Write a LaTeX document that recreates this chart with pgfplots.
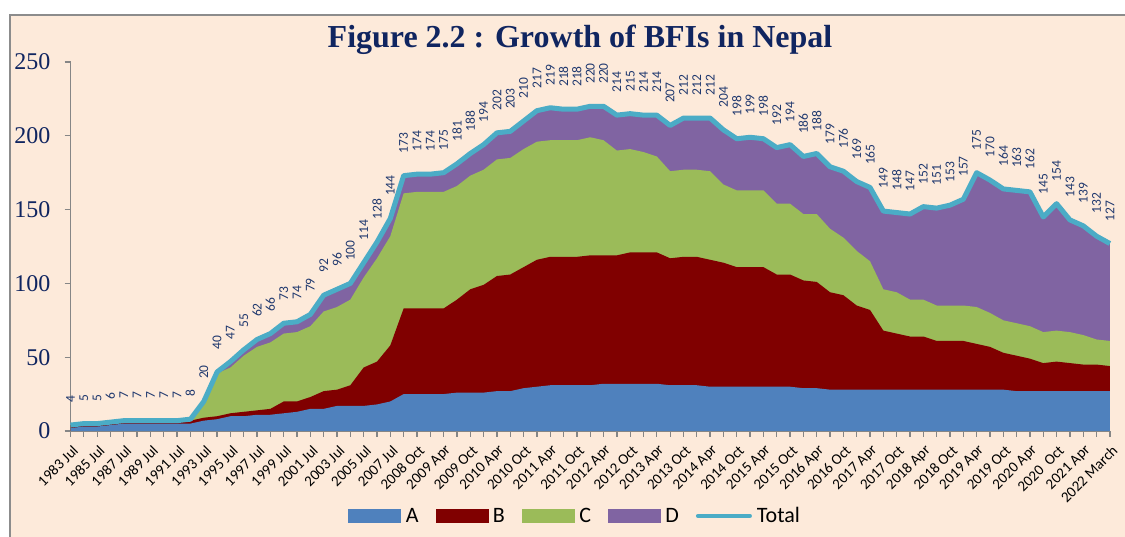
\documentclass[border=0pt]{standalone}
\usepackage{fontspec}
\setmainfont{Liberation Serif}
\newfontfamily\calibri{Carlito}
\usepackage{pgfplots}
\usepackage{pgfplotstable}
\pgfplotsset{compat=1.18}
\definecolor{bgpeach}{RGB}{253,234,218}
\definecolor{framegray}{RGB}{140,140,140}
\definecolor{axgray}{RGB}{134,134,134}
\definecolor{cA}{RGB}{79,129,189}
\definecolor{cB}{RGB}{128,0,0}
\definecolor{cC}{RGB}{155,187,89}
\definecolor{cD}{RGB}{128,100,162}
\definecolor{cT}{RGB}{75,172,198}
\definecolor{navy}{RGB}{16,37,96}
\definecolor{lblnavy}{RGB}{31,56,110}

\pgfplotstableread{
x A B C D T
0 2 2 0 0 4
1 3 2 0 0 5
2 3 2 0 0 5
3 4 2 0 0 6
4 5 2 0 0 7
5 5 2 0 0 7
6 5 2 0 0 7
7 5 2 0 0 7
8 5 2 0 0 7
9 5 2 1 0 8
10 7 2 10 1 20
11 8 2 29 1 40
12 10 2 31 4 47
13 10 3 38 4 55
14 11 3 43 5 62
15 11 4 45 6 66
16 12 8 46 7 73
17 13 7 47 7 74
18 15 8 48 8 79
19 15 12 54 11 92
20 17 11 56 12 96
21 17 14 58 11 100
22 17 26 61 10 114
23 18 29 70 11 128
24 20 38 74 12 144
25 25 58 78 12 173
26 25 58 79 12 174
27 25 58 79 12 174
28 25 58 79 13 175
29 26 63 77 15 181
30 26 70 77 15 188
31 26 73 78 17 194
32 27 78 79 18 202
33 27 79 79 18 203
34 29 82 80 19 210
35 30 86 80 21 217
36 31 87 79 22 219
37 31 87 79 21 218
38 31 87 79 21 218
39 31 88 80 21 220
40 32 87 78 23 220
41 32 87 71 24 214
42 32 89 70 24 215
43 32 89 68 25 214
44 32 89 65 28 214
45 31 86 59 31 207
46 31 87 59 35 212
47 31 87 59 35 212
48 30 86 60 36 212
49 30 84 53 37 204
50 30 81 52 35 198
51 30 81 52 36 199
52 30 81 52 35 198
53 30 76 48 38 192
54 30 76 48 40 194
55 29 73 45 39 186
56 29 72 46 41 188
57 28 66 43 42 179
58 28 64 39 45 176
59 28 57 37 47 169
60 28 54 33 50 165
61 28 40 28 53 149
62 28 38 28 54 148
63 28 36 25 58 147
64 28 36 25 63 152
65 28 33 24 66 151
66 28 33 24 68 153
67 28 33 24 72 157
68 28 31 25 91 175
69 28 29 23 90 170
70 28 25 22 89 164
71 27 24 22 90 163
72 27 22 22 91 162
73 27 19 21 78 145
74 27 20 21 86 154
75 27 19 21 76 143
76 27 18 20 74 139
77 27 18 17 70 132
78 27 17 17 66 127
}\bfi

\begin{document}
\begin{tikzpicture}[x=1pt,y=1pt]
\path[use as bounding box] (0,0) rectangle (1125,537);
\fill[white] (0,0) rectangle (1125,537);
\fill[bgpeach] (9.5,0) rectangle (1125,522);
\draw[framegray, line width=2pt] (9.5,0) -- (9.5,522) -- (1125,522);
\node[anchor=base, font=\bfseries\fontsize{32}{32}\selectfont, text=navy, inner sep=0pt] at (580,489) {Figure 2.2 : Growth of BFIs in Nepal};
\begin{axis}[
  at={(70.5pt,106pt)}, anchor=south west,
  scale only axis, width=1039.5pt, height=369pt,
  xmin=0, xmax=78, ymin=0, ymax=250,
  clip=false,
  axis x line*=bottom, axis y line*=left,
  axis line style={axgray, line width=1.5pt},
  tick align=outside,
  xtick={0,2,...,78}, minor xtick={1,3,...,77},
  ytick={0,50,...,250},
  major tick length=6pt, minor tick length=6pt,
  tick style={axgray, line width=1.3pt},
  xticklabels={1983 Jul,1985 Jul,1987 Jul,1989 Jul,1991 Jul,1993 Jul,1995 Jul,1997 Jul,1999 Jul,2001 Jul,2003 Jul,2005 Jul,2007 Jul,2008 Oct,2009 Apr,2009 Oct,2010 Apr,2010 Oct,2011 Apr,2011 Oct,2012 Apr,2012 Oct,2013 Apr,2013 Oct,2014 Apr,2014 Oct,2015 Apr,2015 Oct,2016 Apr,2016 Oct,2017 Apr,2017 Oct,2018 Apr,2018 Oct,2019 Apr,2019 Oct,2020 Apr,2020~~Oct,2021 Apr,2022 March},
  xticklabel style={font=\calibri\fontsize{15}{15}\selectfont, inner sep=0pt, xshift=5pt, yshift=-11pt, rotate=45, anchor=east},
  yticklabel style={font=\fontsize{24}{24}\selectfont, text=navy, inner sep=0pt, xshift=-14pt, anchor=east},
  /pgf/number format/assume math mode=true,
  legend columns=5,
  legend style={at={(0.487,-0.230)}, anchor=center, draw=none, fill=none,
    font=\calibri\fontsize{22}{22}\selectfont,
    nodes={inner xsep=5pt},
    /tikz/every even column/.append style={column sep=12pt}},
]
\addlegendimage{legend image code/.code={\fill[cA] (0pt,-6.5pt) rectangle (52pt,6.5pt);}}
\addlegendentry{A}
\addlegendimage{legend image code/.code={\fill[cB] (0pt,-6.5pt) rectangle (52pt,6.5pt);}}
\addlegendentry{B}
\addlegendimage{legend image code/.code={\fill[cC] (0pt,-6.5pt) rectangle (52pt,6.5pt);}}
\addlegendentry{C}
\addlegendimage{legend image code/.code={\fill[cD] (0pt,-6.5pt) rectangle (52pt,6.5pt);}}
\addlegendentry{D}
\addlegendimage{legend image code/.code={\draw[cT, line width=4pt, line cap=round] (2pt,0pt) -- (54pt,0pt);}}
\addlegendentry{Total}

\addplot[fill=cD, draw=none, forget plot] table[x=x, y expr=\thisrow{A}+\thisrow{B}+\thisrow{C}+\thisrow{D}]{\bfi} \closedcycle;
\addplot[fill=cC, draw=none, forget plot] table[x=x, y expr=\thisrow{A}+\thisrow{B}+\thisrow{C}]{\bfi} \closedcycle;
\addplot[fill=cB, draw=none, forget plot] table[x=x, y expr=\thisrow{A}+\thisrow{B}]{\bfi} \closedcycle;
\addplot[fill=cA, draw=none, forget plot] table[x=x, y=A]{\bfi} \closedcycle;
\addplot[cT, line width=5pt, line join=round, forget plot,
  nodes near coords,
  every node near coord/.append style={font=\calibri\fontsize{13.5}{13.5}\selectfont, text=lblnavy, rotate=90, anchor=west, inner xsep=20pt, inner ysep=0pt}]
  table[x=x, y=T]{\bfi};
\end{axis}
\end{tikzpicture}
\end{document}
